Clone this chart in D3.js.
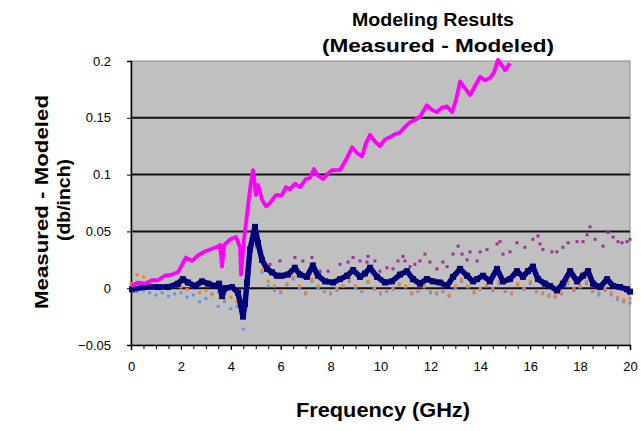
<!DOCTYPE html>
<html><head><meta charset="utf-8">
<script src="https://cdn.jsdelivr.net/npm/d3@7"></script>
<style>body{margin:0;background:#fff}</style>
</head><body><svg id="c" width="641" height="431"></svg>
<script>
// ---------- data ----------
const titleLines = ["Modeling Results", "(Measured - Modeled)"];
const yTitleLines = ["Measured - Modeled", "(db/inch)"];
const xTitle = "Frequency (GHz)";
const xTickValues = [0,2,4,6,8,10,12,14,16,18,20];
const yTickValues = [-0.05,0,0.05,0.1,0.15,0.2];

const magentaFreq = [0,0.28,0.56,0.84,1.08,1.36,1.64,1.88,2.08,2.2,2.44,2.69,2.93,3.17,3.41,3.57,3.65,3.73,3.97,4.21,4.37,4.41,4.53,4.65,4.77,4.89,5.01,5.09,5.25,5.41,5.57,5.81,6.05,6.21,6.37,6.57,6.77,7.01,7.17,7.33,7.49,7.7,7.9,8.06,8.38,8.62,8.86,9.06,9.26,9.42,9.58,9.78,9.98,10.18,10.38,10.62,10.78,10.98,11.18,11.38,11.58,11.86,12.06,12.26,12.46,12.67,12.87,13.03,13.19,13.39,13.59,13.79,13.99,14.19,14.39,14.55,14.71,14.87,14.99,15.19];
const magentaVal = [0.002,0.005,0.004,0.007,0.007,0.011,0.012,0.014,0.022,0.027,0.024,0.029,0.032,0.034,0.036,0.038,0.019,0.038,0.043,0.045,0.036,0.012,0.043,0.065,0.087,0.104,0.082,0.091,0.078,0.072,0.075,0.082,0.082,0.089,0.087,0.092,0.089,0.096,0.097,0.105,0.099,0.096,0.101,0.104,0.104,0.113,0.124,0.119,0.116,0.128,0.135,0.129,0.125,0.131,0.133,0.136,0.137,0.142,0.146,0.148,0.151,0.161,0.157,0.155,0.159,0.160,0.155,0.166,0.182,0.176,0.170,0.178,0.186,0.183,0.185,0.190,0.201,0.196,0.192,0.198];

const navyFreq = [0.04,0.56,1.08,1.48,1.88,2.08,2.28,2.57,2.85,3.09,3.37,3.53,3.65,3.77,4.05,4.29,4.49,4.57,4.65,4.77,4.97,5.09,5.25,5.45,5.65,5.85,6.05,6.29,6.57,6.77,7.05,7.29,7.49,7.78,8.1,8.38,8.66,8.9,9.18,9.38,9.58,9.86,10.18,10.46,10.78,11.06,11.3,11.58,11.86,12.1,12.38,12.67,12.91,13.19,13.47,13.71,13.87,14.11,14.39,14.67,14.91,15.19,15.47,15.71,15.91,16.11,16.31,16.59,16.79,17.07,17.31,17.6,17.88,18.12,18.32,18.52,18.8,19.08,19.32,19.6,19.88,20.0];
const navyVal = [-0.001,0.001,0.001,0.001,0.004,0.008,0.005,0.002,0.006,0.004,0.002,0.004,-0.007,0.000,0.001,-0.004,-0.025,-0.014,0.005,0.034,0.054,0.040,0.025,0.017,0.014,0.011,0.011,0.012,0.018,0.012,0.010,0.020,0.011,0.006,0.005,0.008,0.011,0.016,0.010,0.013,0.018,0.010,0.005,0.006,0.012,0.015,0.008,0.004,0.008,0.006,0.005,0.002,0.010,0.017,0.011,0.006,0.008,0.011,0.006,0.017,0.006,0.008,0.015,0.010,0.015,0.019,0.008,0.004,0.002,-0.002,0.004,0.015,0.006,0.011,0.015,0.004,0.001,0.008,0.002,0.001,-0.001,-0.003];

const purpleFreq = [5.57,5.97,6.57,6.89,7.25,7.58,7.9,8.38,8.7,8.9,9.18,9.46,9.5,9.78,9.98,10.26,10.5,10.7,10.9,10.98,11.18,11.38,11.58,11.78,11.98,12.26,12.5,12.67,12.91,13.11,13.27,13.47,13.59,13.87,13.99,14.27,14.67,14.79,14.91,15.19,15.47,15.79,16.11,16.31,16.39,16.51,16.87,17.07,17.31,17.52,17.88,18.12,18.28,18.4,18.6,18.92,19.12,19.32,19.52,19.68,19.88,20.0];
const purpleVal = [0.021,0.024,0.027,0.024,0.027,0.015,0.015,0.021,0.023,0.027,0.024,0.023,0.028,0.024,0.015,0.018,0.017,0.024,0.028,0.024,0.019,0.021,0.024,0.030,0.023,0.017,0.023,0.019,0.030,0.037,0.030,0.025,0.032,0.024,0.032,0.034,0.039,0.041,0.030,0.032,0.040,0.036,0.043,0.046,0.039,0.034,0.032,0.032,0.036,0.040,0.041,0.041,0.047,0.054,0.043,0.037,0.049,0.045,0.041,0.040,0.041,0.043];

const orangeVal = [0.004,0.012,0.010,0.004,0.002,0.000,0.001,0.002,0.001,-0.001,0.000,-0.004,-0.002,-0.006,-0.003,-0.010,-0.008,-0.012,-0.022,0.020,0.040,0.016,0.006,0.002,-0.002,0.004,0.010,0.002,-0.004,0.008,0.002,-0.002,-0.004,0.000,0.002,0.008,0.002,-0.002,0.006,0.000,-0.004,-0.002,0.000,0.004,0.002,-0.004,-0.002,0.002,-0.002,-0.004,-0.002,-0.006,0.002,0.008,0.002,-0.003,0.000,0.003,0.000,0.006,-0.002,-0.004,0.004,0.000,0.006,-0.002,-0.004,-0.006,-0.007,-0.004,0.006,0.000,0.002,0.006,-0.002,-0.004,0.000,-0.004,-0.008,-0.010,-0.009];
const blueVal = [-0.002,-0.003,-0.002,-0.004,-0.006,-0.004,-0.007,-0.005,-0.004,-0.008,-0.006,-0.012,-0.009,-0.005,-0.016,-0.012,-0.018,-0.016,-0.036,0.012,0.036,0.014,0.002,-0.002,-0.004,0.003,0.008,0.000,-0.005,0.006,0.000,-0.003,-0.005,-0.002,0.002,0.006,0.000,-0.003,0.005,-0.001,-0.005,-0.003,-0.001,0.003,0.001,-0.005,-0.003,0.001,-0.004,-0.005,-0.003,-0.007,0.000,0.006,0.001,-0.004,-0.001,0.002,-0.002,0.004,-0.003,-0.005,0.003,-0.001,0.004,-0.003,-0.005,-0.007,-0.008,-0.005,0.004,-0.002,0.001,0.004,-0.003,-0.006,-0.002,-0.006,-0.010,-0.012,-0.013];
const gridFreq = d3.range(0, 20.0001, 0.25);

// ---------- layout ----------
const svg = d3.select("#c");
const x = d3.scaleLinear().domain([0,20]).range([131,630]);
const y = d3.scaleLinear().domain([-0.05,0.2]).range([345,61]);
const FONT = "'Liberation Sans Narrow','Arial Narrow','Liberation Sans',Arial,sans-serif";

// plot area
svg.append("rect").attr("x",x(0)).attr("y",y(0.2)).attr("width",x(20)-x(0)).attr("height",y(-0.05)-y(0.2))
  .attr("fill","#c0c0c0").attr("stroke","#8a8a8a").attr("stroke-width",1);

// gridlines
svg.append("g").selectAll("line").data([0,0.05,0.1,0.15]).join("line")
  .attr("x1",x(0)).attr("x2",x(20)).attr("y1",d=>y(d)).attr("y2",d=>y(d))
  .attr("stroke","#111").attr("stroke-width",2);

// axes
const yAxis = d3.axisLeft(y).tickValues(yTickValues).tickSize(4).tickPadding(16)
  .tickFormat(d=> d===0 ? "0" : d3.format("")(+d.toFixed(2)));
const gy = svg.append("g").attr("transform",`translate(${x(0)},0)`).call(yAxis);
const xAxisMinor = d3.axisBottom(x).tickValues(d3.range(0,20.001,0.5)).tickSize(4).tickFormat("");
svg.append("g").attr("transform",`translate(0,${y(-0.05)})`).call(xAxisMinor).select(".domain").remove();
const xAxis = d3.axisBottom(x).tickValues(xTickValues).tickSize(5).tickPadding(12);
const gx = svg.append("g").attr("transform",`translate(0,${y(-0.05)})`).call(xAxis);
[gx,gy].forEach(g=>{
  g.selectAll("text").attr("font-family",FONT).attr("font-size",13).attr("fill","#000");
  g.select(".domain").attr("stroke","#000").attr("stroke-width",1.5);
});
svg.selectAll(".tick line").attr("stroke","#000");

// series
const line = d3.line().x(d=>x(d[0])).y(d=>y(d[1]));
const dots = (data, color, r) => svg.append("g").selectAll("rect").data(data).join("rect")
  .attr("x",d=>x(d[0])-r).attr("y",d=>y(d[1])-r).attr("width",2*r).attr("height",2*r).attr("fill",color);

dots(gridFreq.map((f,i)=>[f,blueVal[i]]), "#6495ed", 1.5);
dots(gridFreq.map((f,i)=>[f,orangeVal[i]]), "#ff7f1e", 1.5);
dots(purpleFreq.map((f,i)=>[f,purpleVal[i]]), "#a0309a", 1.5);

const navyPts = navyFreq.map((f,i)=>[f,navyVal[i]]);
svg.append("path").datum(navyPts)
  .attr("d",line).attr("fill","none").attr("stroke","#000080").attr("stroke-width",5.5).attr("stroke-linejoin","round");
dots(navyPts, "#000070", 3);
svg.append("path").datum(magentaFreq.map((f,i)=>[f,magentaVal[i]]))
  .attr("d",line).attr("fill","none").attr("stroke","#ff00ff").attr("stroke-width",3.8).attr("stroke-linejoin","round");

// titles
const t = svg.append("g").attr("font-family",FONT).attr("font-weight","bold").attr("fill","#000");
t.append("text").attr("x",433).attr("y",26).attr("text-anchor","middle").attr("font-size",18)
  .attr("textLength",162).attr("lengthAdjust","spacingAndGlyphs").text(titleLines[0]);
t.append("text").attr("x",438).attr("y",52).attr("text-anchor","middle").attr("font-size",18)
  .attr("textLength",232).attr("lengthAdjust","spacingAndGlyphs").text(titleLines[1]);
t.append("text").attr("transform","translate(48,202) rotate(-90)").attr("text-anchor","middle").attr("font-size",18)
  .attr("textLength",214).attr("lengthAdjust","spacingAndGlyphs").text(yTitleLines[0]);
t.append("text").attr("transform","translate(70,200) rotate(-90)").attr("text-anchor","middle").attr("font-size",18)
  .attr("textLength",82).attr("lengthAdjust","spacingAndGlyphs").text(yTitleLines[1]);
t.append("text").attr("x",383).attr("y",417).attr("text-anchor","middle").attr("font-size",20)
  .attr("textLength",174).attr("lengthAdjust","spacingAndGlyphs").text(xTitle);
</script></body></html>
